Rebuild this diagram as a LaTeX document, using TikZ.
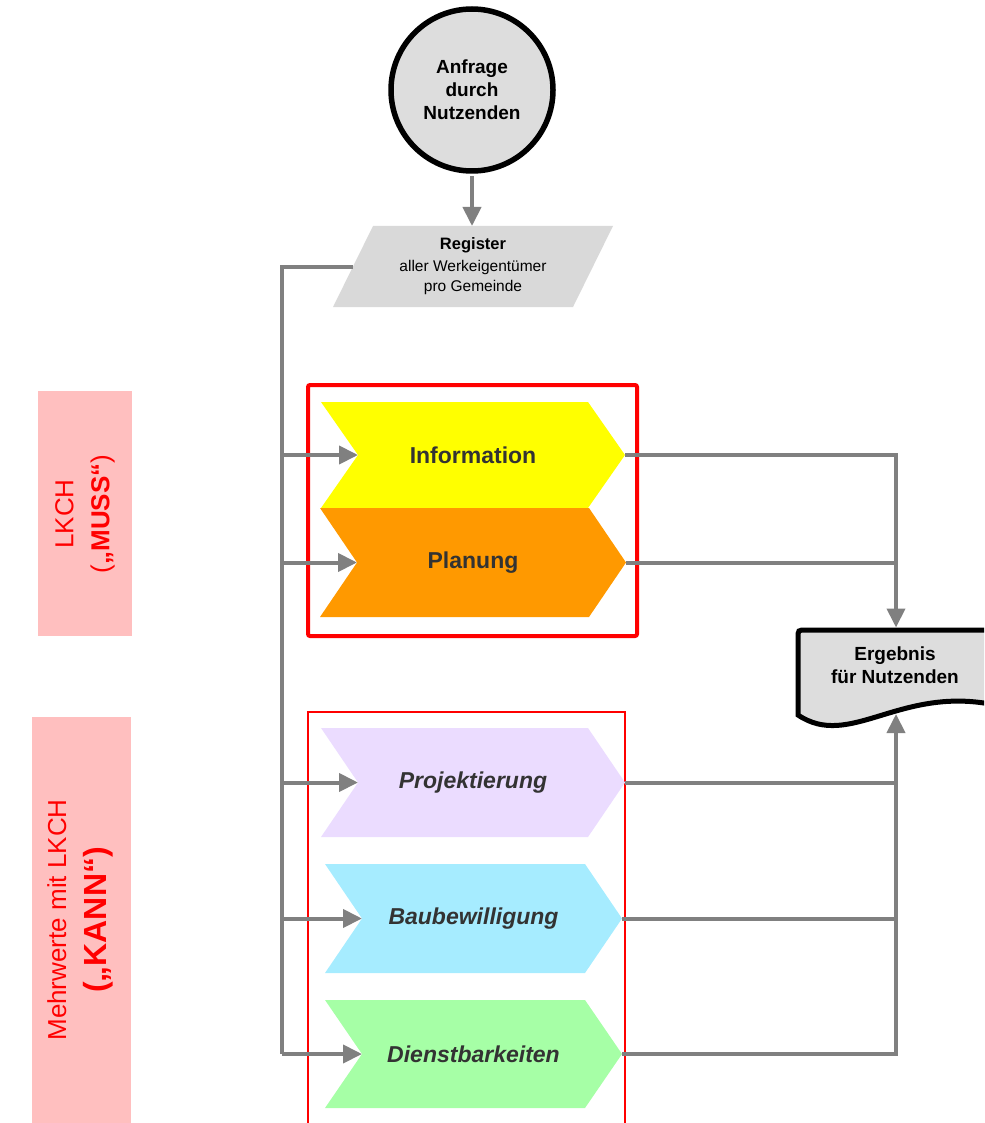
\documentclass[tikz,border=0pt]{standalone}
\usepackage{fontspec}
\setmainfont{Liberation Sans}
\usetikzlibrary{arrows.meta}
\definecolor{lgray}{HTML}{808080}
\definecolor{boxgray}{HTML}{DDDDDD}
\definecolor{reggray}{HTML}{D9D9D9}
\definecolor{ctext}{HTML}{333333}
\definecolor{cyel}{HTML}{FFFF00}
\definecolor{corange}{HTML}{FF9900}
\definecolor{clav}{HTML}{EBDCFF}
\definecolor{ccyan}{HTML}{A6ECFF}
\definecolor{cgreen}{HTML}{A6FFA6}
\definecolor{cpink}{HTML}{FFBFBF}
\definecolor{cred}{HTML}{FF0000}
\newcommand\fs[2]{\fontsize{#1}{#2}\selectfont}
\newcommand\chevron[7]{%
  \fill[#6] (#2,#4-#5) -- (#3-37,#4-#5) -- (#3,#4) -- (#3-37,#4+#5) -- (#2,#4+#5) -- (#2+37,#4) -- cycle;
  \coordinate (#1-in) at (#2+37,#4);
  \coordinate (#1-out) at (#3,#4);
  \node[chevtext] (#1) at ({(#2+#3)/2},#4) {#7};
}
\begin{document}
\begin{tikzpicture}[x=1pt,y=-1pt,
  conn/.style={draw=lgray,line width=4pt},
  arr/.style={conn,-{Triangle[length=19pt,width=18pt]}},
  chevtext/.style={text=ctext,font=\bfseries\fs{23}{27},inner sep=0pt},
  sidetext/.style={rotate=90,text=cred,align=center,inner sep=0pt},
  redthick/.style={draw=cred,line width=4pt,rounded corners=2pt},
  redthin/.style={draw=cred,line width=1.8pt}]
\useasboundingbox (0,0) rectangle (984,1123);
\clip (0,0) rectangle (984,1123);

% side labels
\fill[cpink] (38,391) rectangle (132,636);
\node[sidetext,font=\fs{26}{36}] (muss) at (85,514) {LKCH\\(\textbf{„MUSS“})};
\fill[cpink] (32,717) rectangle (131,1130);
\node[sidetext,font=\fs{26}{40}] (kann) at (80,920) {Mehrwerte mit LKCH\\{\fs{32}{40}\bfseries („KANN“)}};

% red frames
\draw[redthick] (308,385) rectangle (637,636);
\draw[redthin] (308,712) rectangle (625,1140);

% start circle
\node[circle,draw=black,line width=5.5pt,fill=boxgray,minimum size=162pt,inner sep=0pt,
      align=center,font=\bfseries\fs{19}{23}] (req) at (472,90) {Anfrage\\durch\\Nutzenden};

% register parallelogram
\fill[reggray] (333,307) -- (373,226) -- (613,226) -- (573,307) -- cycle;
\coordinate (reg-top) at (472,226);
\coordinate (reg-left) at (353,266.5);
\node[align=center,inner sep=0pt,font=\fs{15.5}{20}] (reg) at (473,266) {{\bfseries\fs{16.5}{20}Register}\\[1.5pt]aller Werkeigentümer\\pro Gemeinde};

% chevrons
\chevron{info}{321}{625}{455}{53}{cyel}{Information}
\chevron{plan}{320}{626}{562.5}{54.5}{corange}{Planung}
\chevron{proj}{321}{625}{782.5}{54.5}{clav}{\itshape Projektierung}
\chevron{bau}{325}{622}{918.5}{54.5}{ccyan}{\itshape Baubewilligung}
\chevron{dien}{325}{622}{1054}{54}{cgreen}{\itshape Dienstbarkeiten}

% result document
\filldraw[draw=black,line width=5pt,fill=boxgray]
  (798,715) -- (798,638) .. controls (798,630) .. (806,630) -- (995,630) -- (995,705)
  .. controls (900,685) and (850,750) .. (798,715) -- cycle;
\node[align=center,font=\bfseries\fs{19}{23},inner sep=0pt] (doc) at (895,665) {Ergebnis\\für Nutzenden};
\coordinate (doc-top) at (896,627.5);
\coordinate (doc-bot) at (896,714);

% connectors
\draw[arr,shorten <=2.5pt] (req.south) -- (reg-top);
\coordinate (trunk) at (282,266.5);
\draw[conn] (reg-left) -- (trunk) -- (trunk |- dien-in);
\foreach \c in {info,plan,proj,bau,dien}{
  \draw[arr] (trunk |- \c-in) -- (\c-in);
}
\draw[arr] (info-out) -| (doc-top);
\draw[conn] (plan-out) -- (doc-top |- plan-out);
\draw[arr] (dien-out) -| (doc-bot);
\draw[conn] (proj-out) -- (doc-bot |- proj-out);
\draw[conn] (bau-out) -- (doc-bot |- bau-out);
\end{tikzpicture}
\end{document}
